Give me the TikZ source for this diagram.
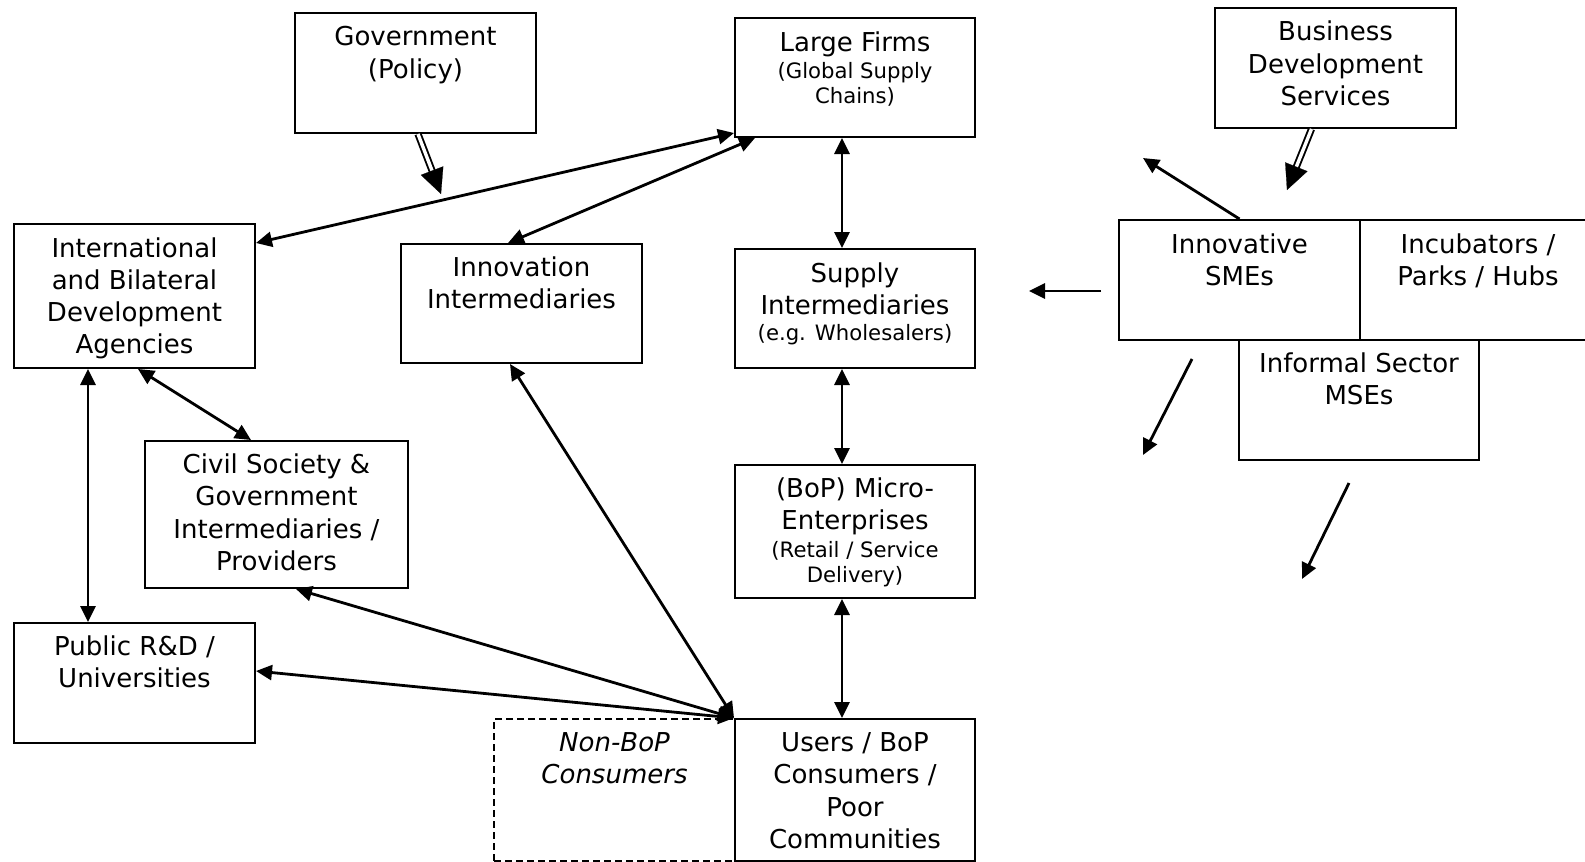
\documentclass[tikz,border=0pt]{standalone}
\usepackage{fontspec}
\setmainfont{DejaVu Sans}
\usetikzlibrary{arrows.meta,calc}
\newcommand\mstrut{\rule{0pt}{10pt}}
\newcommand\sstrut{\rule{0pt}{8pt}}
% \bx[style]{x1}{y1}{x2}{y2}{name}
\newcommand\bx[6][]{\node[box,#1,minimum width={(#4-#2)*0.5pt},minimum height={(#5-#3)*0.5pt}] (#6) at ({(#2+#4)/2},{(#3+#5)/2}) {};}
\begin{document}
\begin{tikzpicture}[x=0.5pt,y=-0.5pt,
  box/.style={draw, line width=1pt, rectangle, inner sep=0pt},
  main/.style={anchor=north, inner sep=0pt, align=center, font=\fontsize{13}{16.15}\selectfont},
  sm/.style={anchor=north, inner sep=0pt, align=center, font=\fontsize{10.6}{12.65}\selectfont},
  link/.style={line width=1.4pt, {Triangle[length=8pt,width=7.5pt]}-{Triangle[length=8pt,width=7.5pt]}},
  oneway/.style={line width=1.4pt, -{Triangle[length=8pt,width=7.5pt]}},
  dbl/.style={double, double distance=1.7pt, line width=0.95pt},
  bighead/.style={-{Triangle[length=12.5pt,width=12pt]}, line width=0.1pt}
]
\useasboundingbox (0,0) rectangle (1585,862);

% boxes
\bx{295}{13}{536}{133}{gov}
\bx{735}{18}{975}{137}{large}
\bx{1215}{8}{1456}{128}{bds}
\bx{14}{224}{255}{368}{intl}
\bx{401}{244}{642}{363}{innov}
\bx{735}{249}{975}{368}{supply}
\bx{1119}{220}{1360}{340}{smes}
\bx{1360}{220}{1601}{340}{incub}
\bx{1239}{340}{1479}{460}{informal}
\bx{145}{441}{408}{588}{civil}
\bx{735}{465}{975}{598}{bopm}
\bx{14}{623}{255}{743}{public}
\bx[dash pattern=on 3.5pt off 2pt]{494}{719}{735}{861}{nonbop}
\bx{735}{719}{975}{861}{users}

% texts
\node[main] (govt) at (415.5,25.4) {\mstrut Government\\(Policy)};
\node[main] (larget) at (855,31.4) {\mstrut Large Firms};
\node[sm] (larges) at (855,61.5) {\sstrut(Global Supply\\Chains)};
\node[main] (bdst) at (1335.5,20.3) {\mstrut Business\\Development\\Services};
\node[main] (intlt) at (134.5,236.6) {\mstrut International\\and Bilateral\\Development\\Agencies};
\node[main] (innovt) at (521.5,255.8) {\mstrut Innovation\\Intermediaries};
\node[main] (supplyt) at (855,261.9) {\mstrut Supply\\Intermediaries};
\node[sm] (supplys) at (855,324.4) {\sstrut(e.g. Wholesalers)};
\node[main] (smest) at (1239.5,232.6) {\mstrut Innovative\\SMEs};
\node[main] (incubt) at (1478,232.6) {\mstrut Incubators /\\Parks / Hubs};
\node[main] (informalt) at (1359,351.9) {\mstrut Informal Sector\\MSEs};
\node[main] (civilt) at (276.5,453) {\mstrut Civil Society \&\\Government\\Intermediaries /\\Providers};
\node[main] (bopmt) at (855,477.2) {\mstrut (BoP) Micro-\\Enterprises};
\node[sm] (bopms) at (855,540.7) {\sstrut(Retail / Service\\Delivery)};
\node[main] (publict) at (134.5,634.9) {\mstrut Public R\&D /\\Universities};
\node[main, font=\fontsize{13}{16.15}\selectfont\itshape] (nonbopt) at (614.5,731) {\mstrut Non-BoP\\Consumers};
\node[main] (userst) at (855,731) {\mstrut Users / BoP\\Consumers /\\Poor\\Communities};

% two-way links
\draw[link] ([yshift=-10pt]intl.north east) -- ([yshift=2.5pt]large.south west);
\draw[link] ([xshift=-6.75pt]innov.north) -- ([xshift=10.5pt]large.south west);
\draw[link] ([xshift=-6.5pt]large.south) -- ([xshift=-6.5pt]supply.north);
\draw[link] ([xshift=-6.5pt]supply.south) -- ([xshift=-6.5pt]bopm.north);
\draw[link] ([xshift=-6.5pt]bopm.south) -- ([xshift=-6.5pt]users.north);
\draw[link] ([xshift=37.5pt]intl.south west) -- ([xshift=37.5pt]public.north west);
\draw[link] ([xshift=1.75pt]intl.south) -- ([xshift=-12.75pt]civil.north);
\draw[link] ([xshift=9.75pt]civil.south) -- (users.north west);
\draw[link] ([yshift=6pt]public.east) -- (users.north west);
\draw[link] ([xshift=-5.75pt]innov.south) -- (users.north west);

% double (policy / service) arrows
\coordinate (govA) at ([xshift=1.25pt]gov.south);
\coordinate (govB) at (441,194);
\coordinate (govM) at ($(govB)!10pt!(govA)$);
\draw[dbl] (govA) -- (govM);
\draw[bighead] (govM) -- (govB);
\coordinate (bdsA) at ([xshift=-12pt]bds.south);
\coordinate (bdsB) at (1287,190);
\coordinate (bdsM) at ($(bdsB)!10pt!(bdsA)$);
\draw[dbl] (bdsA) -- (bdsM);
\draw[bighead] (bdsM) -- (bdsB);

% free arrows of the right cluster
\coordinate (r1) at (1143,158);
\draw[oneway] (smes.north) -- (r1);
\coordinate (r2a) at (1101,291);
\coordinate (r2b) at (1029,291);
\draw[oneway] (r2a) -- (r2b);
\coordinate (r3a) at (1192,359);
\coordinate (r3b) at (1143,455);
\draw[oneway] (r3a) -- (r3b);
\coordinate (r4a) at (1349,483);
\coordinate (r4b) at (1302,579);
\draw[oneway] (r4a) -- (r4b);
\end{tikzpicture}
\end{document}
